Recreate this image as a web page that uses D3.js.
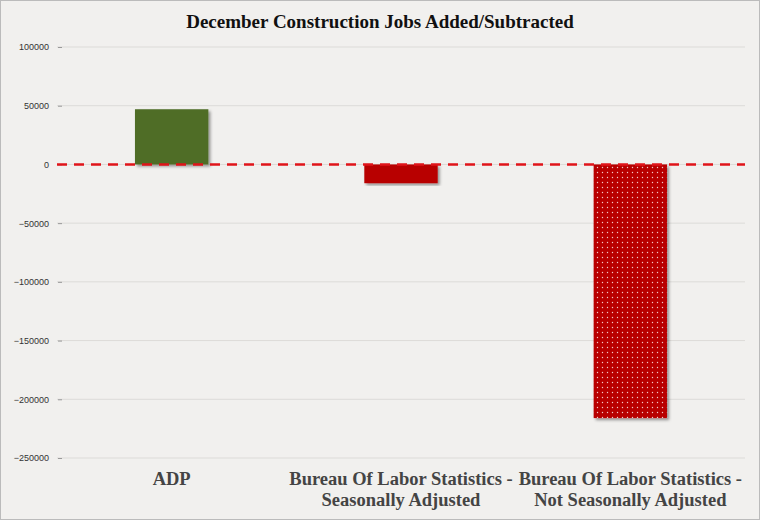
<!DOCTYPE html>
<html><head><meta charset="utf-8">
<script src="https://cdn.jsdelivr.net/npm/d3@7"></script>
<style>body{margin:0;background:#f1f0ee}</style>
</head><body><svg id="c" width="760" height="520"></svg>
<script>
// chart data
const categories = ["ADP", "Bureau Of Labor Statistics -\nSeasonally Adjusted", "Bureau Of Labor Statistics -\nNot Seasonally Adjusted"];
const values = [47000, -16000, -216000];
const colors = ["#4f6d28", "#b80404", "#b80404"];
const ticks = [100000, 50000, 0, -50000, -100000, -150000, -200000, -250000];

const svg = d3.select("#c");
svg.append("rect").attr("x", 0.5).attr("y", 0.5).attr("width", 759).attr("height", 519)
  .attr("fill", "#f1f0ee").attr("stroke", "#bbb");

const defs = svg.append("defs");
const pat = defs.append("pattern").attr("id", "dots").attr("width", 5).attr("height", 5)
  .attr("patternUnits", "userSpaceOnUse");
pat.append("rect").attr("width", 5).attr("height", 5).attr("fill", "#b80404");
pat.append("circle").attr("cx", 2.5).attr("cy", 2.5).attr("r", 0.7).attr("fill", "#f3c8c8");
const f = defs.append("filter").attr("id", "sh");
f.append("feDropShadow").attr("dx", 2).attr("dy", 2).attr("stdDeviation", 1.5).attr("flood-opacity", 0.4);

const y = d3.scaleLinear().domain([-250000, 100000]).range([458, 47]);
const x = d3.scaleBand().domain(categories).range([57, 745]).paddingInner(0.68).paddingOuter(0.34);

svg.append("text").attr("x", 380).attr("y", 28).attr("text-anchor", "middle")
  .attr("font-family", "Liberation Serif, serif").attr("font-weight", "bold").attr("font-size", 19)
  .attr("fill", "#111").text("December Construction Jobs Added/Subtracted");

// grid
svg.selectAll(".g").data(ticks).enter().append("line")
  .attr("x1", 57).attr("x2", 745).attr("y1", d => y(d)).attr("y2", d => y(d))
  .attr("stroke", "#dcdbd8");

const ax = svg.append("g").attr("transform", "translate(62,0)")
  .call(d3.axisLeft(y).tickValues(ticks).tickFormat(d3.format("d")).tickSize(4).tickPadding(9));
ax.select(".domain").remove();
ax.selectAll("line").attr("stroke", "#999");
ax.selectAll("text").attr("font-family", "Liberation Sans, sans-serif").attr("font-size", 9).attr("fill", "#333");

svg.selectAll(".bar").data(values).enter().append("rect")
  .attr("x", (d, i) => x(categories[i]))
  .attr("width", x.bandwidth())
  .attr("y", d => y(Math.max(0, d)))
  .attr("height", d => Math.abs(y(d) - y(0)))
  .attr("fill", (d, i) => i === 2 ? "url(#dots)" : colors[i])
  .attr("filter", "url(#sh)");

svg.append("line").attr("x1", 57).attr("x2", 745).attr("y1", y(0)).attr("y2", y(0))
  .attr("stroke", "#e0141a").attr("stroke-width", 2.5).attr("stroke-dasharray", "10,7");

categories.forEach((c, i) => {
  const t = svg.append("text").attr("text-anchor", "middle")
    .attr("font-family", "Liberation Serif, serif").attr("font-weight", "bold").attr("font-size", 18.5)
    .attr("fill", "#444");
  c.split("\n").forEach((s, j) => {
    t.append("tspan").attr("x", x(c) + x.bandwidth() / 2).attr("y", 485 + j * 21).text(s);
  });
});
</script></body></html>
